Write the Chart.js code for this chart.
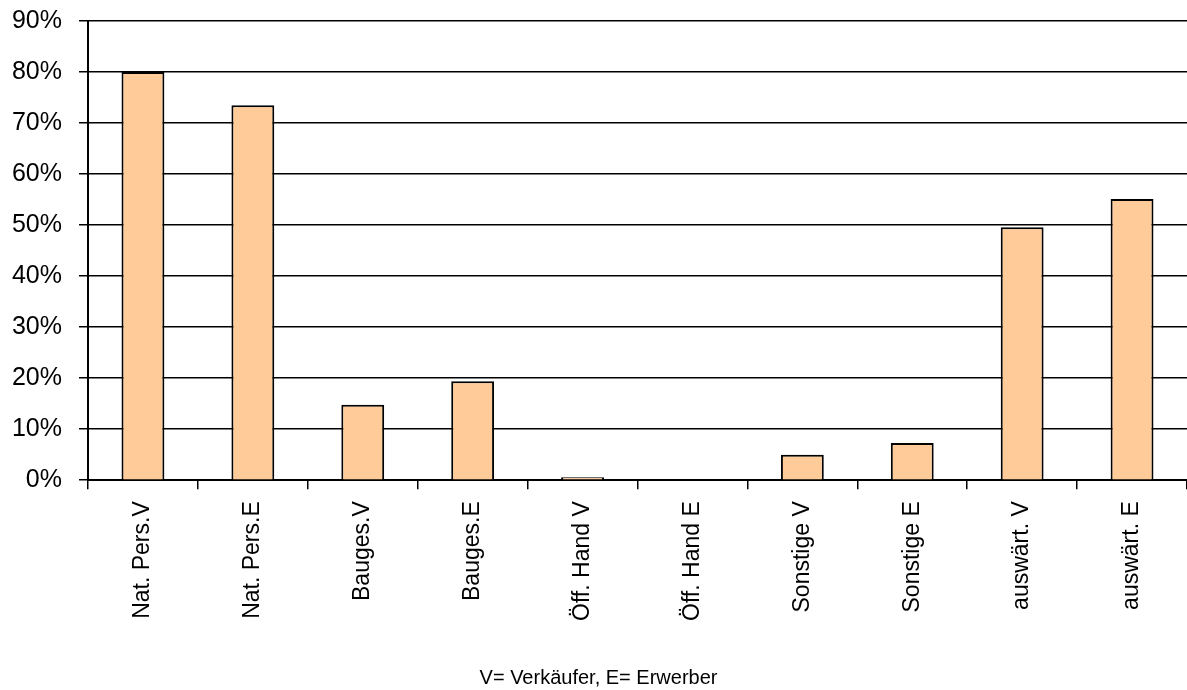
<!DOCTYPE html>
<html>
<head>
<meta charset="utf-8">
<script src="https://cdn.jsdelivr.net/npm/chart.js@4"></script>
<style>
  html, body { margin: 0; padding: 0; background: #fff; }
  #wrap { width: 1187px; height: 690px; }
</style>
</head>
<body>
<div id="wrap"><canvas id="chart"></canvas></div>
<script>
const categories = ['Nat. Pers.V', 'Nat. Pers.E', 'Bauges.V', 'Bauges.E', 'Öff. Hand V', 'Öff. Hand E', 'Sonstige V', 'Sonstige E', 'auswärt. V', 'auswärt. E'];
const shares = [80.0, 73.5, 14.8, 19.4, 0.6, 0.0, 5.0, 7.3, 49.6, 55.1];
const note = 'V= Verkäufer, E= Erwerber';

const FONT = 'Liberation Sans, Arial, sans-serif';

new Chart(document.getElementById('chart'), {
  type: 'bar',
  data: {
    labels: categories,
    datasets: [{
      data: shares,
      backgroundColor: '#FFCC99',
      borderColor: '#000',
      borderWidth: 2,
      barPercentage: 0.39,
      categoryPercentage: 1,
    }],
  },
  options: {
    responsive: true,
    maintainAspectRatio: false,
    animation: false,
    layout: { padding: { left: 10, right: 0, top: 21, bottom: 0 } },
    plugins: {
      legend: { display: false },
      tooltip: { enabled: false },
      title: {
        display: true, position: 'bottom', text: note, color: '#000',
        font: { family: FONT, size: 20, weight: 'normal' },
        padding: { top: 33, bottom: 0 },
      },
    },
    scales: {
      x: {
        grid: { drawOnChartArea: false, drawTicks: true, tickLength: 9, color: '#000', lineWidth: 1.5 },
        border: { color: '#000', width: 2 },
        ticks: {
          color: '#000', minRotation: 90, maxRotation: 90, padding: 12,
          font: { family: FONT, size: 23 },
        },
        // rotated labels would otherwise push the plot area to the right
        afterFit: s => { s.paddingLeft = 0; s.paddingRight = 0; },
      },
      y: {
        min: 0, max: 90,
        grid: { color: '#000', lineWidth: 1.5, tickLength: 9 },
        border: { color: '#000', width: 2 },
        ticks: {
          stepSize: 10, color: '#000', padding: 17,
          font: { family: FONT, size: 25 },
          callback: v => v + '%',
        },
        afterFit: s => { s.paddingTop = 0; s.width = 78; },
      },
    },
  },
});
</script>
</body>
</html>
